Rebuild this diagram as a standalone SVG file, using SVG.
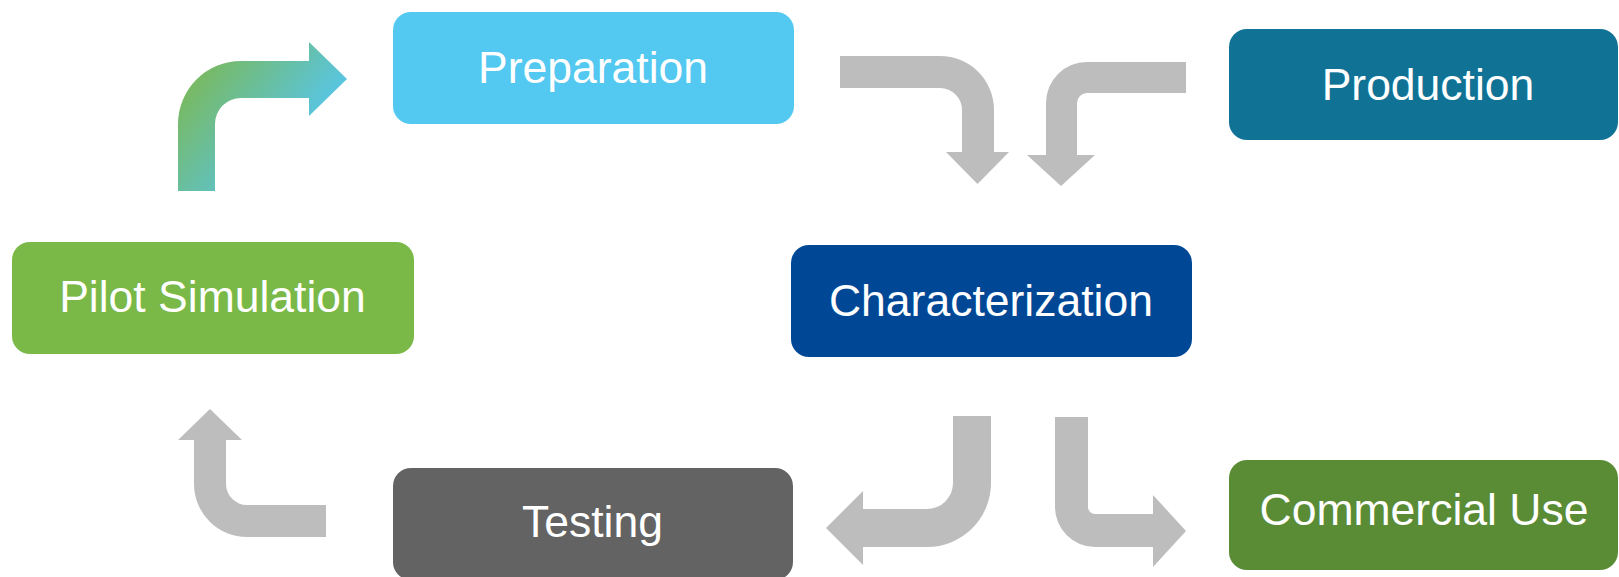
<svg xmlns="http://www.w3.org/2000/svg" width="1619" height="577" viewBox="0 0 1619 577">
  <style>
    .box { stroke: none; }
    .label { font-family: "Liberation Sans", Arial, sans-serif; font-size: 44.5px; fill: #ffffff; text-anchor: middle; }
    .flow { fill: #bdbdbd; stroke: none; }
  </style>
  <defs>
    <linearGradient id="returnGrad" gradientUnits="userSpaceOnUse" x1="185" y1="80" x2="286" y2="159">
      <stop offset="0" stop-color="#7ab85a"/>
      <stop offset="1" stop-color="#58c5e2"/>
    </linearGradient>
  </defs>

  <!-- connectors: bent block arrows -->
  <g id="connectors">
    <path id="pilot-to-preparation" fill="url(#returnGrad)" d="M178,191 L178,124 A63,63 0 0 1 241,61 L309,61 L309,42 L347,79 L309,116 L309,98 L241,98 A26,26 0 0 0 215,124 L215,191 Z"/>
    <path id="preparation-to-characterization" class="flow" d="M840,56 L940,56 A54,54 0 0 1 994,110 L994,152 L1009,152 L977.5,184 L946,152 L962,152 L962,110 A22,22 0 0 0 940,88 L840,88 Z"/>
    <path id="production-to-characterization" class="flow" d="M1186,62 L1087,62 A41,41 0 0 0 1046,103 L1046,155 L1027,155 L1061,186 L1095,155 L1077,155 L1077,103 A10,10 0 0 1 1087,93 L1186,93 Z"/>
    <path id="characterization-to-testing" class="flow" d="M953,416 L991,416 L991,483 A64,64 0 0 1 927,547 L863,547 L863,565 L826,528 L863,491 L863,509 L927,509 A26,26 0 0 0 953,483 Z"/>
    <path id="characterization-to-commercial" class="flow" d="M1055,417 L1088,417 L1088,507 A7,7 0 0 0 1095,514 L1153,514 L1153,495 L1186,531 L1153,567 L1153,547 L1095,547 A40,40 0 0 1 1055,507 Z"/>
    <path id="testing-to-pilot" class="flow" d="M326,505 L247,505 A21,21 0 0 1 226,484 L226,440 L242,440 L210,409 L178,440 L194,440 L194,484 A53,53 0 0 0 247,537 L326,537 Z"/>
  </g>

  <g id="node-preparation">
    <rect class="box" x="393" y="12" width="401" height="112" rx="18" fill="#53c8f0"/>
    <text class="label" x="593" y="83">Preparation</text>
  </g>
  <g id="node-production">
    <rect class="box" x="1229" y="29" width="389" height="111" rx="18" fill="#107396"/>
    <text class="label" x="1428" y="100">Production</text>
  </g>
  <g id="node-pilot-simulation">
    <rect class="box" x="12" y="242" width="402" height="112" rx="18" fill="#7ab847"/>
    <text class="label" x="212.5" y="312">Pilot Simulation</text>
  </g>
  <g id="node-characterization">
    <rect class="box" x="791" y="245" width="401" height="112" rx="18" fill="#004896"/>
    <text class="label" x="991" y="316">Characterization</text>
  </g>
  <g id="node-testing">
    <rect class="box" x="393" y="468" width="400" height="112" rx="18" fill="#636363"/>
    <text class="label" x="592.5" y="537">Testing</text>
  </g>
  <g id="node-commercial-use">
    <rect class="box" x="1229" y="460" width="389" height="110" rx="18" fill="#5a8c36"/>
    <text class="label" x="1424" y="525">Commercial Use</text>
  </g>
</svg>
